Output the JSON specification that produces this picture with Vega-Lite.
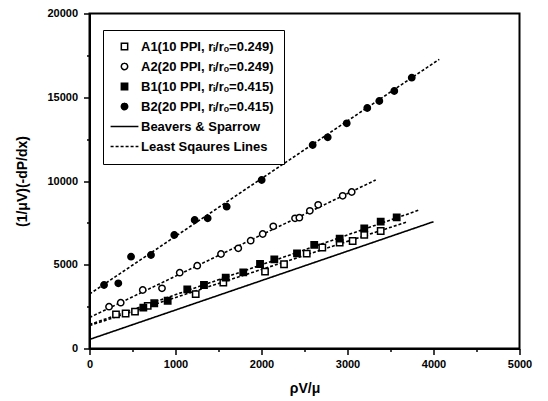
{
  "$schema": "https://vega.github.io/schema/vega-lite/v6.json",
  "width": 430,
  "height": 335,
  "autosize": "none",
  "padding": {"left": 89.5, "top": 13.5, "right": 28.5, "bottom": 52.5},
  "background": "white",
  "config": {
    "font": "Liberation Sans",
    "view": {"stroke": "black", "strokeWidth": 2},
    "axis": {
      "grid": false,
      "domainColor": "black",
      "domainWidth": 2,
      "tickColor": "black",
      "tickWidth": 1.5,
      "labelFont": "Liberation Sans",
      "labelFontWeight": "bold",
      "labelFontSize": 11,
      "labelColor": "black",
      "titleFont": "Liberation Sans",
      "titleFontWeight": "bold",
      "titleFontSize": 14,
      "titleColor": "black",
      "labelOverlap": false,
      "labelFlush": false
    },
    "legend": {
      "orient": "none",
      "legendX": 13.5,
      "legendY": 16.5,
      "strokeColor": "black",
      "fillColor": "white",
      "padding": 10,
      "rowPadding": 6,
      "labelFont": "Liberation Sans",
      "labelFontWeight": "bold",
      "labelFontSize": 13,
      "labelColor": "black",
      "labelLimit": 300,
      "labelOffset": 10,
      "symbolSize": 40,
      "symbolStrokeColor": "black",
      "symbolStrokeWidth": 1.5,
      "symbolOffset": 5
    }
  },
  "datasets": {
    "points": [
      {"series": "A1(10 PPI, rᵢ/rₒ=0.249)", "x": 308, "y": 2040},
      {"series": "A1(10 PPI, rᵢ/rₒ=0.249)", "x": 420, "y": 2090},
      {"series": "A1(10 PPI, rᵢ/rₒ=0.249)", "x": 529, "y": 2200},
      {"series": "A1(10 PPI, rᵢ/rₒ=0.249)", "x": 677, "y": 2540},
      {"series": "A1(10 PPI, rᵢ/rₒ=0.249)", "x": 1235, "y": 3250},
      {"series": "A1(10 PPI, rᵢ/rₒ=0.249)", "x": 1556, "y": 3930},
      {"series": "A1(10 PPI, rᵢ/rₒ=0.249)", "x": 2041, "y": 4585},
      {"series": "A1(10 PPI, rᵢ/rₒ=0.249)", "x": 2262, "y": 5030},
      {"series": "A1(10 PPI, rᵢ/rₒ=0.249)", "x": 2526, "y": 5660},
      {"series": "A1(10 PPI, rᵢ/rₒ=0.249)", "x": 2707, "y": 6030},
      {"series": "A1(10 PPI, rᵢ/rₒ=0.249)", "x": 2909, "y": 6320},
      {"series": "A1(10 PPI, rᵢ/rₒ=0.249)", "x": 3060, "y": 6420},
      {"series": "A1(10 PPI, rᵢ/rₒ=0.249)", "x": 3195, "y": 6780},
      {"series": "A1(10 PPI, rᵢ/rₒ=0.249)", "x": 3386, "y": 7015},
      {"series": "A2(20 PPI, rᵢ/rₒ=0.249)", "x": 227, "y": 2496},
      {"series": "A2(20 PPI, rᵢ/rₒ=0.249)", "x": 363, "y": 2734},
      {"series": "A2(20 PPI, rᵢ/rₒ=0.249)", "x": 619, "y": 3493},
      {"series": "A2(20 PPI, rᵢ/rₒ=0.249)", "x": 843, "y": 3594},
      {"series": "A2(20 PPI, rᵢ/rₒ=0.249)", "x": 1049, "y": 4525},
      {"series": "A2(20 PPI, rᵢ/rₒ=0.249)", "x": 1253, "y": 4943},
      {"series": "A2(20 PPI, rᵢ/rₒ=0.249)", "x": 1529, "y": 5642},
      {"series": "A2(20 PPI, rᵢ/rₒ=0.249)", "x": 1730, "y": 5982},
      {"series": "A2(20 PPI, rᵢ/rₒ=0.249)", "x": 1874, "y": 6436},
      {"series": "A2(20 PPI, rᵢ/rₒ=0.249)", "x": 2014, "y": 6836},
      {"series": "A2(20 PPI, rᵢ/rₒ=0.249)", "x": 2137, "y": 7296},
      {"series": "A2(20 PPI, rᵢ/rₒ=0.249)", "x": 2390, "y": 7773},
      {"series": "A2(20 PPI, rᵢ/rₒ=0.249)", "x": 2440, "y": 7809},
      {"series": "A2(20 PPI, rᵢ/rₒ=0.249)", "x": 2562, "y": 8221},
      {"series": "A2(20 PPI, rᵢ/rₒ=0.249)", "x": 2659, "y": 8579},
      {"series": "A2(20 PPI, rᵢ/rₒ=0.249)", "x": 2944, "y": 9116},
      {"series": "A2(20 PPI, rᵢ/rₒ=0.249)", "x": 3049, "y": 9343},
      {"series": "B1(10 PPI, rᵢ/rₒ=0.415)", "x": 626, "y": 2440},
      {"series": "B1(10 PPI, rᵢ/rₒ=0.415)", "x": 753, "y": 2700},
      {"series": "B1(10 PPI, rᵢ/rₒ=0.415)", "x": 909, "y": 2850},
      {"series": "B1(10 PPI, rᵢ/rₒ=0.415)", "x": 1137, "y": 3534},
      {"series": "B1(10 PPI, rᵢ/rₒ=0.415)", "x": 1331, "y": 3791},
      {"series": "B1(10 PPI, rᵢ/rₒ=0.415)", "x": 1584, "y": 4227},
      {"series": "B1(10 PPI, rᵢ/rₒ=0.415)", "x": 1788, "y": 4549},
      {"series": "B1(10 PPI, rᵢ/rₒ=0.415)", "x": 1983, "y": 5045},
      {"series": "B1(10 PPI, rᵢ/rₒ=0.415)", "x": 2149, "y": 5325},
      {"series": "B1(10 PPI, rᵢ/rₒ=0.415)", "x": 2413, "y": 5684},
      {"series": "B1(10 PPI, rᵢ/rₒ=0.415)", "x": 2613, "y": 6191},
      {"series": "B1(10 PPI, rᵢ/rₒ=0.415)", "x": 2909, "y": 6555},
      {"series": "B1(10 PPI, rᵢ/rₒ=0.415)", "x": 3195, "y": 7176},
      {"series": "B1(10 PPI, rᵢ/rₒ=0.415)", "x": 3386, "y": 7570},
      {"series": "B1(10 PPI, rᵢ/rₒ=0.415)", "x": 3572, "y": 7833},
      {"series": "B2(20 PPI, rᵢ/rₒ=0.415)", "x": 169, "y": 3791},
      {"series": "B2(20 PPI, rᵢ/rₒ=0.415)", "x": 335, "y": 3893},
      {"series": "B2(20 PPI, rᵢ/rₒ=0.415)", "x": 483, "y": 5481},
      {"series": "B2(20 PPI, rᵢ/rₒ=0.415)", "x": 715, "y": 5582},
      {"series": "B2(20 PPI, rᵢ/rₒ=0.415)", "x": 986, "y": 6776},
      {"series": "B2(20 PPI, rᵢ/rₒ=0.415)", "x": 1223, "y": 7672},
      {"series": "B2(20 PPI, rᵢ/rₒ=0.415)", "x": 1374, "y": 7773},
      {"series": "B2(20 PPI, rᵢ/rₒ=0.415)", "x": 1595, "y": 8466},
      {"series": "B2(20 PPI, rᵢ/rₒ=0.415)", "x": 2002, "y": 10060},
      {"series": "B2(20 PPI, rᵢ/rₒ=0.415)", "x": 2595, "y": 12149},
      {"series": "B2(20 PPI, rᵢ/rₒ=0.415)", "x": 2770, "y": 12609},
      {"series": "B2(20 PPI, rᵢ/rₒ=0.415)", "x": 2991, "y": 13445},
      {"series": "B2(20 PPI, rᵢ/rₒ=0.415)", "x": 3230, "y": 14358},
      {"series": "B2(20 PPI, rᵢ/rₒ=0.415)", "x": 3370, "y": 14776},
      {"series": "B2(20 PPI, rᵢ/rₒ=0.415)", "x": 3544, "y": 15373},
      {"series": "B2(20 PPI, rᵢ/rₒ=0.415)", "x": 3747, "y": 16167}
    ],
    "lines": [
      {"series": "Beavers & Sparrow", "line": "BS", "x": 0, "y": 540},
      {"series": "Beavers & Sparrow", "line": "BS", "x": 4000, "y": 7570},
      {"series": "Least Sqaures Lines", "line": "A1", "x": 0, "y": 1370},
      {"series": "Least Sqaures Lines", "line": "A1", "x": 3680, "y": 7534},
      {"series": "Least Sqaures Lines", "line": "B1", "x": 0, "y": 1430},
      {"series": "Least Sqaures Lines", "line": "B1", "x": 3835, "y": 8269},
      {"series": "Least Sqaures Lines", "line": "A2", "x": 0, "y": 1850},
      {"series": "Least Sqaures Lines", "line": "A2", "x": 3328, "y": 10060},
      {"series": "Least Sqaures Lines", "line": "B2", "x": 0, "y": 3250},
      {"series": "Least Sqaures Lines", "line": "B2", "x": 4067, "y": 17266}
    ]
  },
  "layer": [
    {
      "data": {"name": "lines"},
      "mark": {"type": "line", "color": "black", "strokeWidth": 1.6},
      "encoding": {
        "x": {"field": "x", "type": "quantitative"},
        "y": {"field": "y", "type": "quantitative"},
        "detail": {"field": "line"},
        "strokeDash": {
          "field": "series",
          "type": "nominal",
          "scale": {
            "domain": ["A1(10 PPI, rᵢ/rₒ=0.249)", "A2(20 PPI, rᵢ/rₒ=0.249)", "B1(10 PPI, rᵢ/rₒ=0.415)", "B2(20 PPI, rᵢ/rₒ=0.415)", "Beavers & Sparrow", "Least Sqaures Lines"],
            "range": [[1, 0], [1, 0], [1, 0], [1, 0], [1, 0], [3, 2]]
          },
          "legend": {
            "title": null,
            "encode": {"symbols": {"update": {"stroke": {"value": "black"}, "strokeWidth": {"value": 1.5}, "opacity": {"value": 1}}}}
          }
        }
      }
    },
    {
      "data": {"name": "points"},
      "mark": {"type": "point", "filled": true, "stroke": "black", "strokeWidth": 1.5, "size": 40, "opacity": 1},
      "encoding": {
        "x": {
          "field": "x", "type": "quantitative",
          "scale": {"domain": [0, 5000], "nice": false},
          "axis": {
            "title": "ρV/μ",
            "format": "d",
            "values": [0, 500, 1000, 1500, 2000, 2500, 3000, 3500, 4000, 4500, 5000],
            "labelExpr": "datum.value % 1000 === 0 ? datum.label : ''",
            "tickSize": {"condition": {"test": "datum.value % 1000 === 0", "value": 6}, "value": 3},
            "labelPadding": 4,
            "titlePadding": 12
          }
        },
        "y": {
          "field": "y", "type": "quantitative",
          "scale": {"domain": [0, 20000], "nice": false},
          "axis": {
            "title": "(1/μV)(-dP/dx)",
            "values": [0, 2500, 5000, 7500, 10000, 12500, 15000, 17500, 20000],
            "labelExpr": "datum.value % 5000 === 0 ? datum.label : ''",
            "format": "d",
            "tickSize": {"condition": {"test": "datum.value % 5000 === 0", "value": 6}, "value": 3},
            "labelPadding": 6,
            "titlePadding": 17,
            "titleFontSize": 14
          }
        },
        "shape": {
          "field": "series", "type": "nominal",
          "scale": {
            "domain": ["A1(10 PPI, rᵢ/rₒ=0.249)", "A2(20 PPI, rᵢ/rₒ=0.249)", "B1(10 PPI, rᵢ/rₒ=0.415)", "B2(20 PPI, rᵢ/rₒ=0.415)", "Beavers & Sparrow", "Least Sqaures Lines"],
            "range": ["square", "circle", "square", "circle", "M-4.4,0H4.4", "M-4.4,0H4.4"]
          },
          "legend": {
            "title": null,
            "encode": {"symbols": {"update": {"stroke": {"value": "black"}, "strokeWidth": {"value": 1.5}, "opacity": {"value": 1}}}}
          }
        },
        "fill": {
          "field": "series", "type": "nominal",
          "scale": {
            "domain": ["A1(10 PPI, rᵢ/rₒ=0.249)", "A2(20 PPI, rᵢ/rₒ=0.249)", "B1(10 PPI, rᵢ/rₒ=0.415)", "B2(20 PPI, rᵢ/rₒ=0.415)", "Beavers & Sparrow", "Least Sqaures Lines"],
            "range": ["white", "white", "black", "black", "transparent", "transparent"]
          },
          "legend": {
            "title": null,
            "encode": {"symbols": {"update": {"stroke": {"value": "black"}, "strokeWidth": {"value": 1.5}, "opacity": {"value": 1}}}}
          }
        }
      }
    }
  ]
}
